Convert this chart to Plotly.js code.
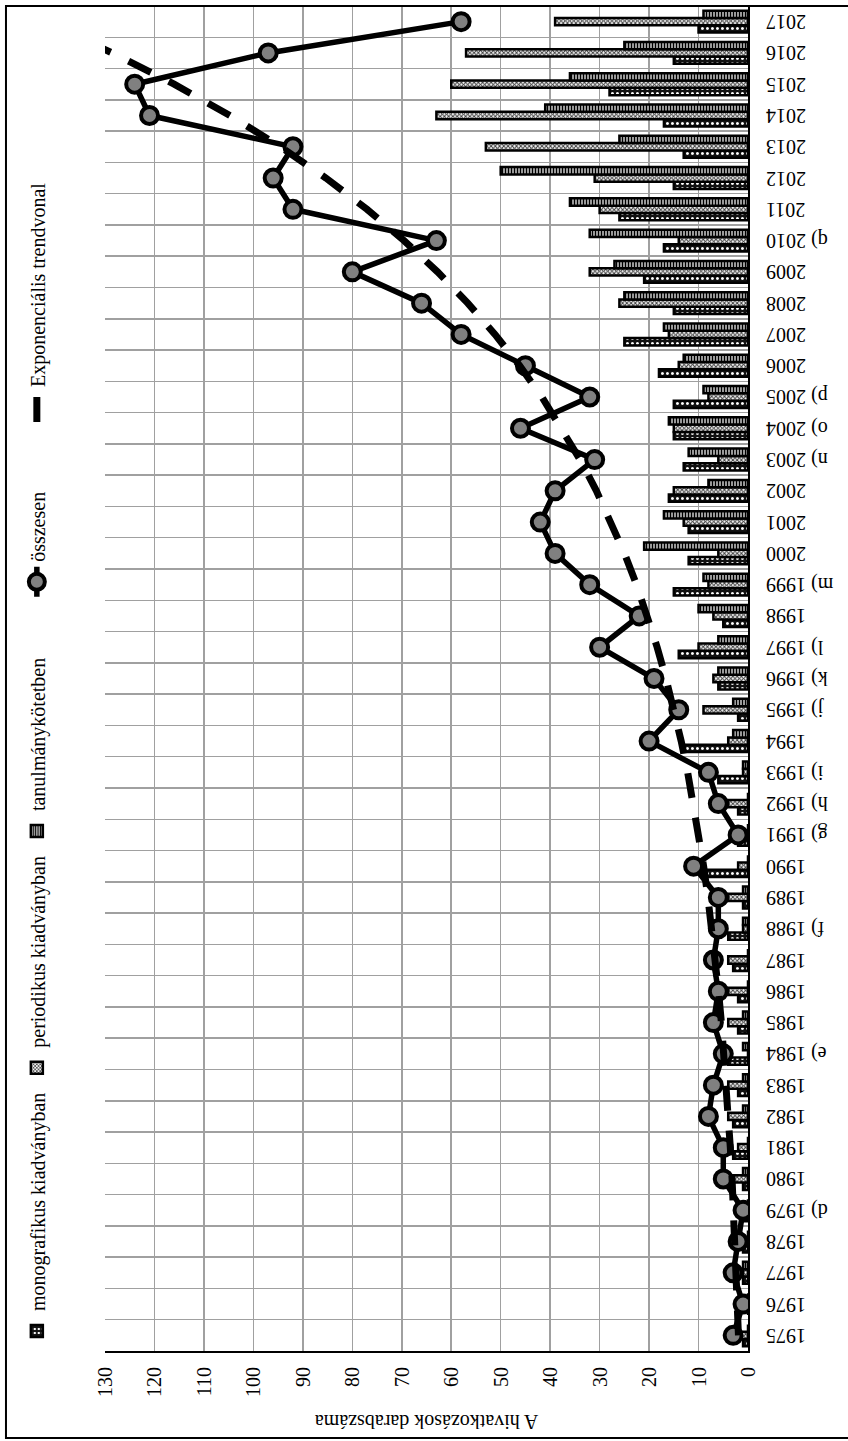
<!DOCTYPE html>
<html><head><meta charset="utf-8">
<script src="https://cdn.plot.ly/plotly-3.0.1.min.js"></script>
<style>
html,body{margin:0;padding:0;width:848px;height:1441px;overflow:hidden;background:#fff;}
#wrap{position:absolute;left:0;top:0;width:1441px;height:848px;transform-origin:0 0;transform:translate(0px,1441px) rotate(-90deg);}
#chart{width:1441px;height:848px;}
</style></head><body><div id="wrap"><div id="chart"></div></div>
<script>
const categories = ["1975","1976","1977","1978","d) 1979","1980","1981","1982","1983","e) 1984","1985","1986","1987","f) 1988","1989","1990","g) 1991","h) 1992","i) 1993","1994","j) 1995","k) 1996","l) 1997","1998","m) 1999","2000","2001","2002","n) 2003","o) 2004","p) 2005","2006","2007","2008","2009","q) 2010","2011","2012","2013","2014","2015","2016","2017"];
const monografikus = [1,0,1,1,1,1,3,3,2,4,2,2,3,4,1,9,2,2,6,13,2,6,14,5,15,12,12,16,13,15,15,18,25,15,21,17,26,15,13,17,28,15,10];
const periodikus = [2,1,1,1,0,3,2,4,4,0,4,4,4,1,4,2,0,4,1,4,9,7,10,7,8,6,13,15,6,15,8,14,16,26,32,14,30,31,53,63,60,57,39];
const tanulmany = [0,0,1,0,0,1,0,1,1,1,1,0,0,1,1,0,0,0,1,3,3,6,6,10,9,21,17,8,12,16,9,13,17,25,27,32,36,50,26,41,36,25,9];
const osszesen = [3,1,3,2,1,5,5,8,7,5,7,6,7,6,6,11,2,6,8,20,14,19,30,22,32,39,42,39,31,46,32,45,58,66,80,63,92,96,92,121,124,97,58];
const trendvonal = [1.93,2.14,2.37,2.63,2.91,3.22,3.57,3.95,4.38,4.85,5.38,5.96,6.60,7.31,8.10,8.97,9.94,11.01,12.20,13.51,14.97,16.58,18.37,20.35,22.54,24.98,27.67,30.65,33.96,37.62,41.67,46.17,51.15,56.66,62.77,69.54,77.04,85.34,94.54,104.74,116.03,128.54,142.40];
const valueTicks = [0,10,20,30,40,50,60,70,80,90,100,110,120,130];

const FONT = "'Liberation Serif','Times New Roman',serif";
const barLine = {color:'#000', width:2.5};
const legendFont = {family:FONT, size:20, color:'#000'};

const traces = [
  {type:'bar', name:'monografikus kiadványban', x:categories, y:monografikus, legend:'legend',
   marker:{color:'#000', line:barLine, pattern:{shape:'.', fgcolor:'#ffffff', bgcolor:'#111111', size:5, solidity:0.25}}},
  {type:'bar', name:'periodikus kiadványban', x:categories, y:periodikus, legend:'legend',
   marker:{color:'#fff', line:barLine, pattern:{shape:'x', fgcolor:'#3a3a3a', bgcolor:'#f2f2f2', size:3, solidity:0.5}}},
  {type:'bar', name:'tanulmánykötetben', x:categories, y:tanulmany, legend:'legend',
   marker:{color:'#fff', line:barLine, pattern:{shape:'-', fgcolor:'#000000', bgcolor:'#ffffff', size:3, solidity:0.6}}},
  {type:'scatter', mode:'lines+markers', name:'összesen', x:categories, y:osszesen, legend:'legend2',
   line:{color:'#000', width:5.5},
   marker:{symbol:'circle', size:17, color:'#808080', line:{color:'#000', width:4}}},
  {type:'scatter', mode:'lines', name:'Exponenciális trendvonal', x:categories, y:trendvonal, legend:'legend3',
   line:{color:'#000', width:7, dash:'25px,20px'}}
];

const layout = {
  width:1441, height:848,
  margin:{l:90, r:6, t:105, b:100},
  paper_bgcolor:'#fff', plot_bgcolor:'#fff',
  font:{family:FONT, size:20, color:'#000'},
  barmode:'group', bargap:0.3, bargroupgap:0,
  showlegend:true,
  legend:{orientation:'h', x:0, xanchor:'left', y:1.106, yanchor:'middle', font:legendFont, traceorder:'normal'},
  legend2:{orientation:'h', x:0.557, xanchor:'left', y:1.106, yanchor:'middle', font:legendFont},
  legend3:{orientation:'h', x:0.687, xanchor:'left', y:1.106, yanchor:'middle', font:legendFont},
  xaxis:{type:'category', range:[-0.5, 42.5], tickson:'boundaries', showgrid:true, gridcolor:'#a0a0a0', gridwidth:1.5,
         tickangle:-90, ticks:'', ticklabelstandoff:8, tickfont:{family:FONT, size:20, color:'#000'},
         showline:true, linecolor:'#000', linewidth:2, fixedrange:true},
  yaxis:{range:[0,130], tickvals:valueTicks, ticktext:valueTicks.map(String), showgrid:true, gridcolor:'#a0a0a0', gridwidth:1.5,
         ticks:'', ticklabelstandoff:10, tickfont:{family:FONT, size:20, color:'#000'},
         showline:true, linecolor:'#000', linewidth:2, zeroline:false,
         title:{text:'A hivatkozások darabszáma', font:{family:FONT, size:20, color:'#000'}, standoff:12}},
  shapes:[{type:'rect', xref:'paper', yref:'paper', x0:-0.0647, x1:1.0, y0:-0.2, y1:1.154, line:{color:'#000', width:2}, fillcolor:'rgba(0,0,0,0)'}]
};

Plotly.newPlot('chart', traces, layout, {displayModeBar:false, staticPlot:true});
</script>
</body></html>
